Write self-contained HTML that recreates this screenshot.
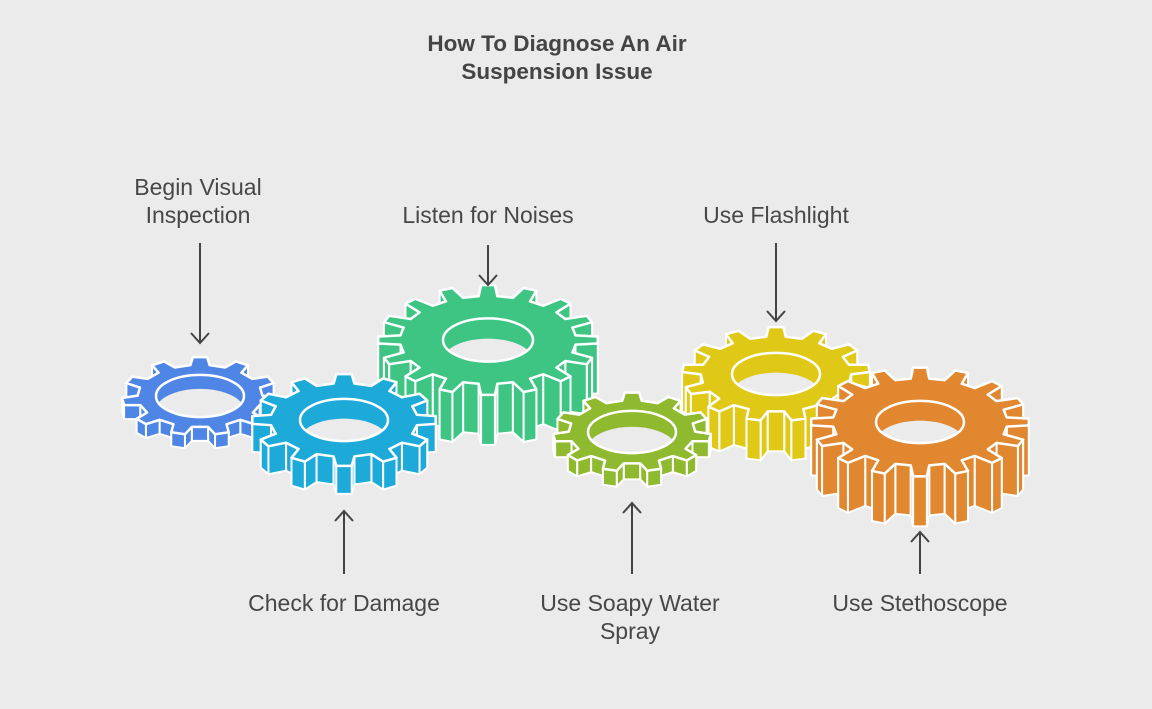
<!DOCTYPE html>
<html><head><meta charset="utf-8"><style>
html,body{margin:0;padding:0;background:#ebebeb;}
body{width:1152px;height:704px;overflow:hidden;position:relative;font-family:"Liberation Sans",sans-serif;}
</style></head><body>
<svg id="s" width="1152" height="704" viewBox="0 0 1152 704" xmlns="http://www.w3.org/2000/svg">
<rect width="1152" height="704" fill="#ebebeb"/>
<g id="gears"></g>
<g font-family="Liberation Sans, sans-serif" fill="#444" text-anchor="middle">
<text x="557" y="51" font-size="22.5" font-weight="bold">How To Diagnose An Air</text>
<text x="557" y="79" font-size="22.5" font-weight="bold">Suspension Issue</text>
<g font-size="23" fill="#474747">
<text x="198" y="195">Begin Visual</text>
<text x="198" y="223">Inspection</text>
<text x="488" y="223">Listen for Noises</text>
<text x="776" y="223">Use Flashlight</text>
<text x="344" y="611">Check for Damage</text>
<text x="630" y="611">Use Soapy Water</text>
<text x="630" y="639">Spray</text>
<text x="920" y="611">Use Stethoscope</text>
</g>
</g>
<g stroke="#444" stroke-width="2" fill="none">
<path d="M200 243V343M191 333L200 343L209 333"/>
<path d="M488 245V285M479 275L488 285L497 275"/>
<path d="M776 243V321M767 311L776 321L785 311"/>
<path d="M344 574V511M335 521L344 511L353 521"/>
<path d="M632 574V503M623 513L632 503L641 513"/>
<path d="M920 574V532M911 542L920 532L929 542"/>
</g>
</svg>
<script>
var NS="http://www.w3.org/2000/svg";
var G=document.getElementById("gears");
function el(t,a,p){var e=document.createElementNS(NS,t);for(var k in a)e.setAttribute(k,a[k]);(p||G).appendChild(e);return e;}
function gear(cx,cy,R,n,d,col,hr){
  var ri=R*0.8,pts=[],ry=0.5;
  for(var i=0;i<n;i++){
    var a0=(i/n)*2*Math.PI - Math.PI/2, s=2*Math.PI/n;
    var angs=[[a0-s*0.27,ri],[a0-s*0.16,R],[a0+s*0.16,R],[a0+s*0.27,ri]];
    angs.forEach(function(q){pts.push([cx+q[1]*Math.cos(q[0]),cy+q[1]*Math.sin(q[0])*ry]);});
  }
  var g=el("g",{});
  var quads=[];
  for(var i=0;i<pts.length;i++){
    var p=pts[i],q=pts[(i+1)%pts.length];
    quads.push({y:(p[1]+q[1])/2,pts:[p,q,[q[0],q[1]+d],[p[0],p[1]+d]]});
  }
  quads.sort(function(a,b){return a.y-b.y;});
  quads.forEach(function(Q){el("polygon",{points:Q.pts.map(function(v){return v.join(",")}).join(" "),fill:col,stroke:"#fff","stroke-width":2,"stroke-linejoin":"round"},g);});
  el("polygon",{points:pts.map(function(v){return v.join(",")}).join(" "),fill:col,stroke:"#fff","stroke-width":2.5,"stroke-linejoin":"round"},g);
  var id="c"+Math.round(cx);
  var cp=el("clipPath",{id:id},g);el("ellipse",{cx:cx,cy:cy,rx:hr,ry:hr*0.48},cp);
  el("ellipse",{cx:cx,cy:cy,rx:hr,ry:hr*0.48,fill:col},g);
  el("ellipse",{cx:cx,cy:cy+Math.min(d,hr*0.45),rx:hr,ry:hr*0.48,fill:"#ebebeb","clip-path":"url(#"+id+")"},g);
  el("ellipse",{cx:cx,cy:cy,rx:hr,ry:hr*0.48,fill:"none",stroke:"#fff","stroke-width":2.5},g);
}
gear(488,340,110,16,50,"#3ec483",45);
gear(776,374,94,13,40,"#e0c916",44);
gear(200,396,78,11,14,"#4f86e6",44);
gear(920,422,109,16,50,"#e08730",44);
gear(344,420,92,12,28,"#1eaad9",44);
gear(632,432,79,11,16,"#8fba2f",44);
</script>
</body></html>
